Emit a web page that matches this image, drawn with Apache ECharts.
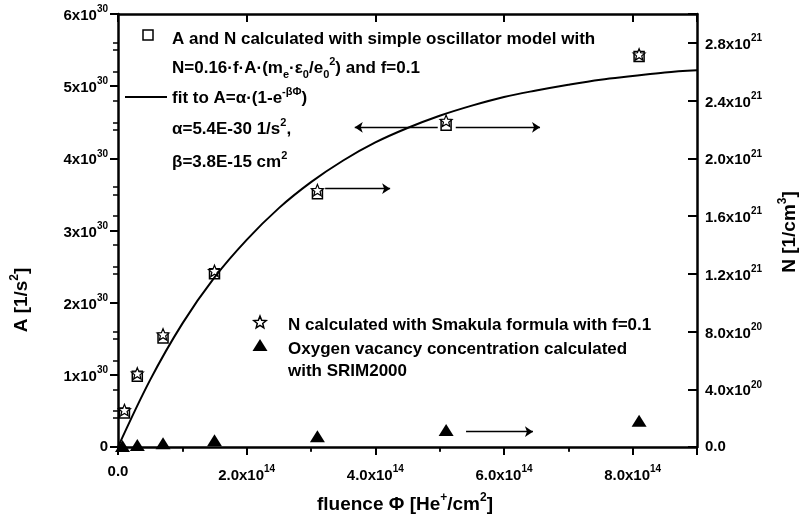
<!DOCTYPE html>
<html>
<head>
<meta charset="utf-8">
<script src="https://cdn.jsdelivr.net/npm/echarts@6/dist/echarts.min.js"></script>
<style>
  html, body { margin: 0; padding: 0; background: #fff; }
  #chart { width: 806px; height: 527px; }
</style>
</head>
<body>
<div id="chart"></div>
<script>
// He+ fluence of the irradiated samples (1/cm^2)
const fluence = [0.1e14, 0.3e14, 0.7e14, 1.5e14, 3.1e14, 5.1e14, 8.1e14];
// Oscillator strength A (1/s^2) from the simple oscillator model
const oscillatorA = [0.47e30, 0.98e30, 1.51e30, 2.40e30, 3.51e30, 4.46e30, 5.41e30];
// Colour-centre density N (1/cm^3) from the Smakula formula, f = 0.1
const smakulaN = [0.256e21, 0.51e21, 0.78e21, 1.22e21, 1.78e21, 2.26e21, 2.72e21];
// Oxygen vacancy concentration from SRIM2000 (1/cm^3)
const vacancyFluence = [0.07e14, 0.3e14, 0.7e14, 1.5e14, 3.1e14, 5.1e14, 8.1e14];
const vacancyN = [0.007e21, 0.014e21, 0.026e21, 0.047e21, 0.075e21, 0.118e21, 0.182e21];
// Saturation fit A = alpha(1 - exp(-beta*Phi)), sampled every 0.5e14 along the fluence axis
const fitFluence = [0, 0.5e14, 1e14, 1.5e14, 2e14, 2.5e14, 3e14, 3.5e14, 4e14, 4.5e14,
                    5e14, 5.5e14, 6e14, 6.5e14, 7e14, 7.5e14, 8e14, 8.5e14, 9e14];
const fitA = [0, 0.93e30, 1.71e30, 2.35e30, 2.87e30, 3.31e30, 3.67e30, 3.97e30, 4.22e30, 4.42e30,
              4.59e30, 4.73e30, 4.85e30, 4.94e30, 5.02e30, 5.09e30, 5.14e30, 5.19e30, 5.22e30];
// Axis ranges and tick steps
const fluenceRange = [0, 9e14], fluenceStep = 2e14;
const aRange = [0, 6e30], aStep = 1e30;
const nRange = [0, 3e21], nStep = 4e20;
// Arrows telling which axis a data set belongs to: [from fluence, to fluence, level]
const arrowsOnA = [[4.97e14, 3.68e14, 4.43e30], [5.25e14, 6.56e14, 4.43e30], [3.22e14, 4.23e14, 3.58e30]];
const arrowsOnN = [[5.41e14, 6.45e14, 0.106e21]];

const FONT = 'Liberation Sans, Arial, sans-serif';
const BLACK = '#000';

const tickRich = {
  n: { fontFamily: FONT, fontSize: 15, fontWeight: 'bold', color: BLACK, lineHeight: 19, verticalAlign: 'bottom' },
  s: { fontFamily: FONT, fontSize: 10, fontWeight: 'bold', color: BLACK, verticalAlign: 'top' }
};
const tickLabelBase = { fontFamily: FONT, fontSize: 15, fontWeight: 'bold', color: BLACK, rich: tickRich };

function xLabel(v) {
  if (v === 0) return '0.0';
  const m = Math.round(v / 1e13) / 10;
  if (m > 8.5) return '';
  return '{n|' + m.toFixed(1) + 'x10}{s|14}';
}
function aLabel(v) {
  if (v === 0) return '0';
  const m = Math.round(v / 1e29) / 10;
  return '{n|' + m.toFixed(0) + 'x10}{s|30}';
}
function nLabel(v) {
  if (v === 0) return '0.0';
  const m = Math.round(v / 1e19) / 10;
  if (m > 28.5) return '';
  if (m < 10) return '{n|' + m.toFixed(1) + 'x10}{s|20}';
  return '{n|' + (m / 10).toFixed(1) + 'x10}{s|21}';
}

const lineAxis = { show: true, onZero: false, lineStyle: { color: BLACK, width: 2.5 } };
const noLine = { show: false };

const STAR = [[50,0],[62.93,32.2],[97.55,34.55],[70.92,56.8],[79.39,90.45],[50,72],[20.61,90.45],[29.08,56.8],[2.45,34.55],[37.07,32.2]];
function starPath() {
  return 'path://M' + STAR.map(p => p[0] + ',' + p[1]).join('L') + 'Z';
}
function starPoints(cx, cy, size) {
  return STAR.map(p => [cx + (p[0] - 50) / 100 * size, cy + (p[1] - 45.2) / 100 * size]);
}

// Rich text styles for the in-plot notes and the axis titles
const noteRich = {
  t: { fontFamily: FONT, fontSize: 17, fontWeight: 'bold', fill: BLACK, lineHeight: 24, verticalAlign: 'middle' },
  sup: { fontFamily: FONT, fontSize: 11, fontWeight: 'bold', fill: BLACK, verticalAlign: 'top' },
  sub: { fontFamily: FONT, fontSize: 11, fontWeight: 'bold', fill: BLACK, verticalAlign: 'bottom' }
};
const titleRich = {
  t: { fontFamily: FONT, fontSize: 19, fontWeight: 'bold', fill: BLACK, lineHeight: 26, verticalAlign: 'middle' },
  sup: { fontFamily: FONT, fontSize: 12, fontWeight: 'bold', fill: BLACK, verticalAlign: 'top' }
};
function note(x, y, text) {
  return { type: 'text', x: x, y: y, silent: true,
    style: { text: text, rich: noteRich, align: 'left', verticalAlign: 'middle', fill: BLACK,
             fontFamily: FONT, fontSize: 17, fontWeight: 'bold' } };
}
function title(x, y, text, rot) {
  return { type: 'text', x: x, y: y, rotation: rot, silent: true,
    style: { text: text, rich: titleRich, align: 'center', verticalAlign: 'middle', fill: BLACK,
             fontFamily: FONT, fontSize: 19, fontWeight: 'bold' } };
}

const arrowLine = (list) => ({
  silent: true, animation: false,
  symbol: ['none', 'arrow'], symbolSize: 8,
  label: { show: false },
  lineStyle: { color: BLACK, width: 1.3, type: 'solid' },
  emphasis: { disabled: true },
  data: list.map(a => [{ coord: [a[0], a[2]] }, { coord: [a[1], a[2]] }])
});

const chart = echarts.init(document.getElementById('chart'), null, { renderer: 'canvas' });
chart.setOption({
  animation: false,
  backgroundColor: '#fff',
  grid: { left: 118, top: 14, width: 579, height: 433, containLabel: false, outerBoundsMode: 'none' },
  xAxis: [
    { type: 'value', position: 'bottom', min: fluenceRange[0], max: fluenceRange[1], interval: fluenceStep,
      axisLine: lineAxis, axisTick: { show: true, inside: false, length: 8, lineStyle: { color: BLACK, width: 2 } },
      axisLabel: Object.assign({ margin: 17, formatter: xLabel }, tickLabelBase), splitLine: { show: false } },
    { type: 'value', position: 'bottom', min: fluenceRange[0], max: fluenceRange[1], interval: fluenceStep / 2,
      axisLine: noLine, axisTick: { show: true, inside: false, length: 5, lineStyle: { color: BLACK, width: 1.5 } },
      axisLabel: { show: false }, splitLine: { show: false } },
    { type: 'value', position: 'top', min: fluenceRange[0], max: fluenceRange[1], interval: fluenceStep,
      axisLine: lineAxis, axisTick: { show: true, inside: true, length: 8, lineStyle: { color: BLACK, width: 2 } },
      axisLabel: { show: false }, splitLine: { show: false } },
    { type: 'value', position: 'top', min: fluenceRange[0], max: fluenceRange[1], interval: fluenceStep / 2,
      axisLine: noLine, axisTick: { show: true, inside: true, length: 4, lineStyle: { color: BLACK, width: 1.5 } },
      axisLabel: { show: false }, splitLine: { show: false } }
  ],
  yAxis: [
    { type: 'value', position: 'left', min: aRange[0], max: aRange[1], interval: aStep,
      axisLine: lineAxis, axisTick: { show: true, inside: false, length: 8, lineStyle: { color: BLACK, width: 2 } },
      minorTick: { show: true, splitNumber: 2, length: 5, lineStyle: { color: BLACK, width: 1.5 } },
      axisLabel: Object.assign({ margin: 10, formatter: aLabel }, tickLabelBase),
      splitLine: { show: false }, minorSplitLine: { show: false } },
    { type: 'value', position: 'right', min: nRange[0], max: nRange[1], interval: nStep,
      axisLine: lineAxis, axisTick: { show: true, inside: true, length: 9, lineStyle: { color: BLACK, width: 2 } },
      axisLabel: Object.assign({ margin: 8, formatter: nLabel }, tickLabelBase), splitLine: { show: false } },
    { type: 'value', position: 'right', min: nRange[0], max: nRange[1], interval: nStep / 2,
      axisLine: noLine, axisTick: { show: true, inside: true, length: 5, lineStyle: { color: BLACK, width: 1.5 } },
      axisLabel: { show: false }, splitLine: { show: false } }
  ],
  series: [
    { name: 'fit', type: 'line', xAxisIndex: 0, yAxisIndex: 0, silent: true,
      data: fitFluence.map((f, i) => [f, fitA[i]]),
      showSymbol: false, smooth: 0.35,
      lineStyle: { color: BLACK, width: 2 } },
    { name: 'A', type: 'scatter', xAxisIndex: 0, yAxisIndex: 0, silent: true,
      data: fluence.map((f, i) => [f, oscillatorA[i]]),
      symbol: 'rect', symbolSize: 10,
      itemStyle: { color: '#fff', borderColor: BLACK, borderWidth: 1.5, opacity: 1 },
      markLine: arrowLine(arrowsOnA) },
    { name: 'N Smakula', type: 'scatter', xAxisIndex: 0, yAxisIndex: 1, silent: true,
      data: fluence.map((f, i) => [f, smakulaN[i]]),
      symbol: starPath(), symbolSize: 12, symbolKeepAspect: true,
      itemStyle: { color: '#fff', borderColor: BLACK, borderWidth: 1.2, opacity: 1 } },
    { name: 'vacancies', type: 'scatter', xAxisIndex: 0, yAxisIndex: 1, silent: true,
      data: vacancyFluence.map((f, i) => [f, vacancyN[i]]),
      symbol: 'triangle', symbolSize: [15, 12],
      itemStyle: { color: BLACK, opacity: 1 },
      markLine: arrowLine(arrowsOnN) }
  ],
  graphic: [
    // notes in the upper-left corner
    { type: 'rect', silent: true, shape: { x: 143, y: 30, width: 10, height: 10 },
      style: { fill: '#fff', stroke: BLACK, lineWidth: 1.5 } },
    note(172, 39, '{t|A and N calculated with simple oscillator model with}'),
    note(172, 68, '{t|N=0.16·f·A·(m}{sub|e}{t|·ε}{sub|0}{t|/e}{sub|0}{sup|2}{t|) and f=0.1}'),
    { type: 'line', silent: true, shape: { x1: 125, y1: 97, x2: 167, y2: 97 },
      style: { stroke: BLACK, lineWidth: 2 } },
    note(172, 98, '{t|fit to A=α·(1-e}{sup|-βΦ}{t|)}'),
    note(172, 129, '{t|α=5.4E-30 1/s}{sup|2}{t|,}'),
    note(172, 162, '{t|β=3.8E-15 cm}{sup|2}'),
    // notes in the lower part of the plot
    { type: 'polygon', silent: true, shape: { points: starPoints(260, 322, 13) },
      style: { fill: '#fff', stroke: BLACK, lineWidth: 1.5 } },
    note(288, 325, '{t|N calculated with Smakula formula with f=0.1}'),
    { type: 'polygon', silent: true, shape: { points: [[260, 339], [267.5, 351], [252.5, 351]] },
      style: { fill: BLACK } },
    note(288, 349, '{t|Oxygen vacancy concentration calculated}'),
    note(288, 371, '{t|with SRIM2000}'),
    // axis titles
    title(22, 300, '{t|A [1/s}{sup|2}{t|]}', Math.PI / 2),
    title(790, 232, '{t|N [1/cm}{sup|3}{t|]}', Math.PI / 2),
    title(405, 505, '{t|fluence Φ [He}{sup|+}{t|/cm}{sup|2}{t|]}', 0)
  ]
});
</script>
</body>
</html>
